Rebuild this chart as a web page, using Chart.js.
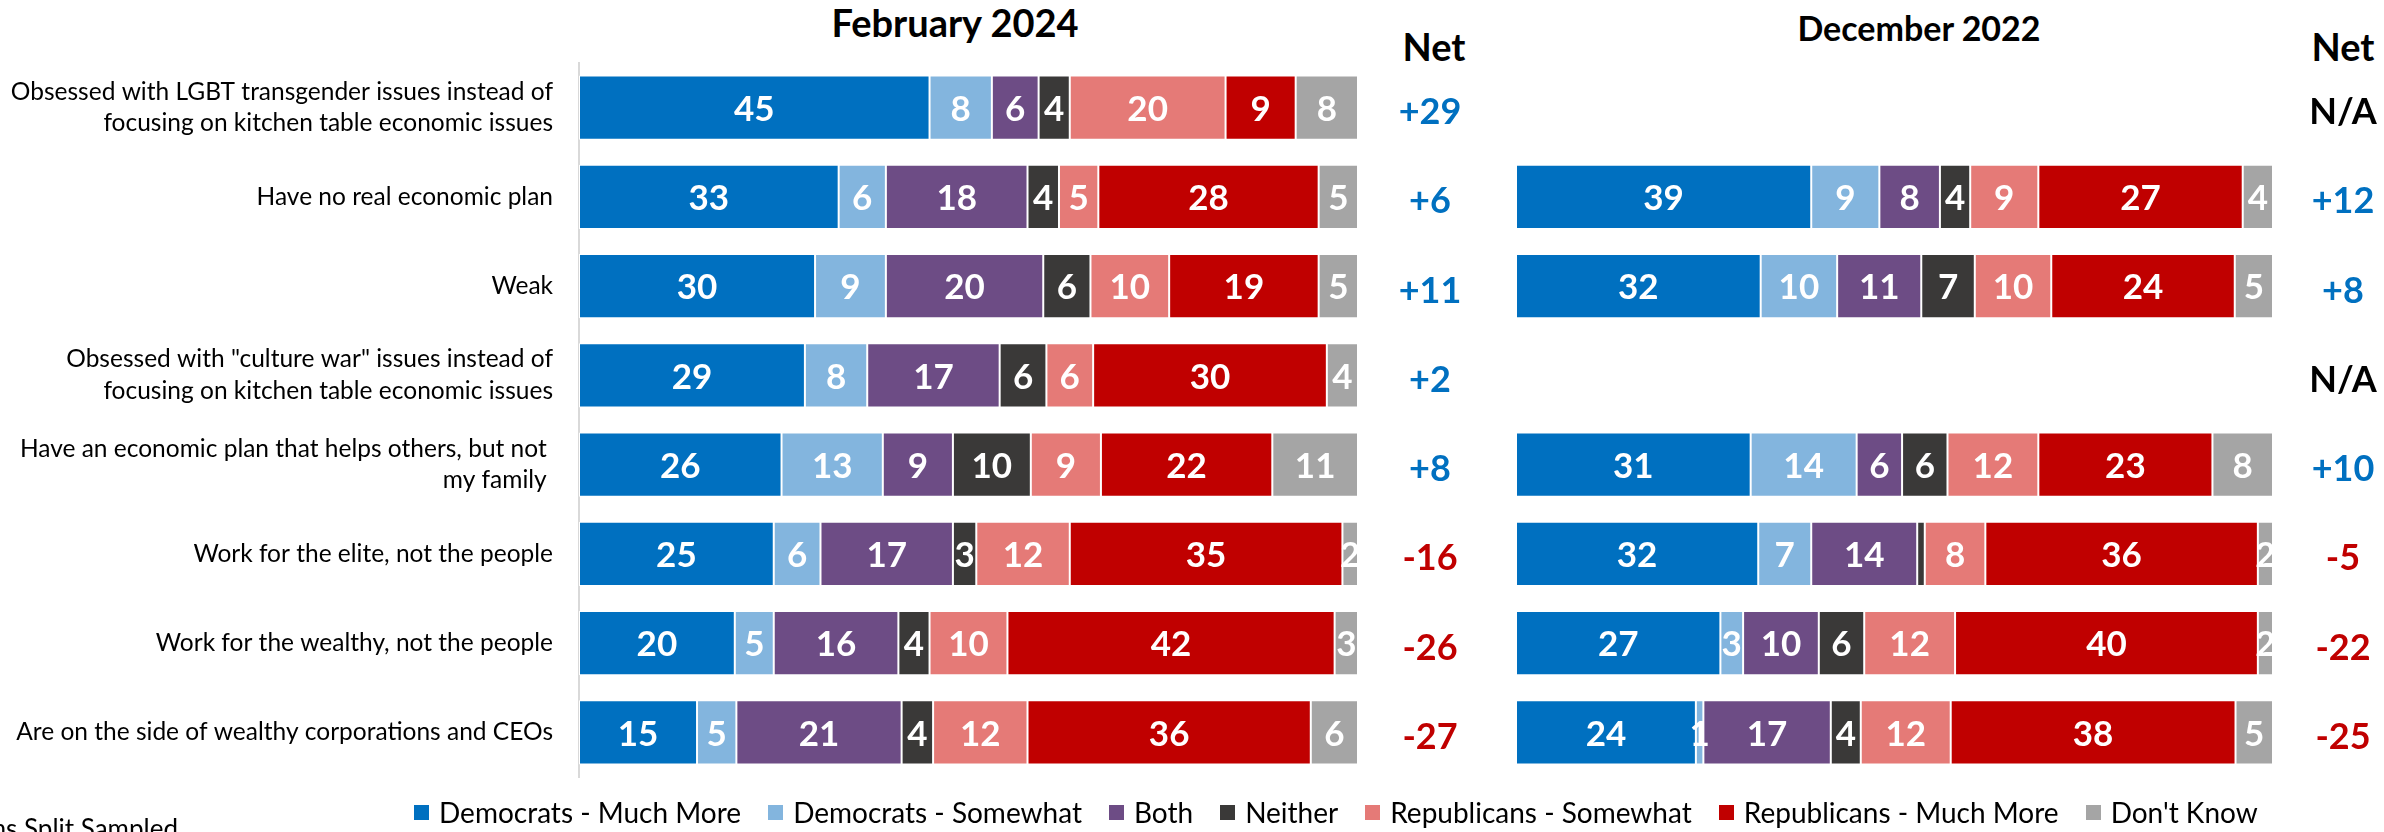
<!DOCTYPE html>
<html lang="en">
<head>
<meta charset="UTF-8">
<title>Democrats vs Republicans - who is it more true of</title>
<script src="https://cdn.jsdelivr.net/npm/chart.js"></script>
<style>
  html, body { margin: 0; padding: 0; background: #fff; }
  body { width: 2384px; height: 832px; position: relative; overflow: hidden; font-family: Lato, sans-serif; color: #000; }
  canvas { position: absolute; top: 0; }
  #feb { left: 0; }
  #dec { left: 1480px; }
  .head { position: absolute; font-weight: bold; font-size: 37px; line-height: 1; white-space: nowrap; transform: translateX(-50%); }
  #legend { position: absolute; left: 414px; top: 798px; display: flex; align-items: center; font-size: 28px; line-height: 1; white-space: nowrap; }
  #legend span.item { display: flex; align-items: center; margin-right: 27px; }
  #legend i { display: inline-block; width: 15px; height: 15px; margin-right: 10px; }
  #note { position: absolute; right: 2206px; top: 815px; font-size: 26px; line-height: 1; white-space: nowrap; }
</style>
</head>
<body>
<div class="head" style="left:955px; top:3px; font-size:38px;">February 2024</div>
<div class="head" style="left:1919px; top:11px; font-size:34px;">December 2022</div>
<div class="head" style="left:1434px; top:27px; font-size:38px;">Net</div>
<div class="head" style="left:2343px; top:27px; font-size:38px;">Net</div>
<canvas id="feb" width="1480" height="832"></canvas>
<canvas id="dec" width="904" height="832"></canvas>
<div id="legend"></div>
<div id="note">*Items Split Sampled</div>

<script>
    const statements = [
        ['Obsessed with LGBT transgender issues instead of', 'focusing on kitchen table economic issues'],
        'Have no real economic plan',
        'Weak',
        ['Obsessed with "culture war" issues instead of', 'focusing on kitchen table economic issues'],
        ['Have an economic plan that helps others, but not ', 'my family '],
        'Work for the elite, not the people',
        'Work for the wealthy, not the people',
        'Are on the side of wealthy corporations and CEOs'
    ];
    const seriesNames = ['Democrats - Much More', 'Democrats - Somewhat', 'Both', 'Neither',
        'Republicans - Somewhat', 'Republicans - Much More', "Don't Know"];
    const seriesColors = ['#0070C0', '#83B5DE', '#6D4C85', '#3A3938', '#E57A77', '#C00000', '#A5A5A5'];

    // February 2024
    const febDemMuch = [45, 33, 30, 29, 26, 25, 20, 15];
    const febDemSome = [8, 6, 9, 8, 13, 6, 5, 5];
    const febBoth = [6, 18, 20, 17, 9, 17, 16, 21];
    const febNeither = [4, 4, 6, 6, 10, 3, 4, 4];
    const febRepSome = [20, 5, 10, 6, 9, 12, 10, 12];
    const febRepMuch = [9, 28, 19, 30, 22, 35, 42, 36];
    const febDontKnow = [8, 5, 5, 4, 11, 2, 3, 6];
    const febNet = [29, 6, 11, 2, 8, -16, -26, -27];

    // December 2022 (null = not asked)
    const decDemMuch = [null, 39, 32, null, 31, 32, 27, 24];
    const decDemSome = [null, 9, 10, null, 14, 7, 3, 1];
    const decBoth = [null, 8, 11, null, 6, 14, 10, 17];
    const decNeither = [null, 4, 7, null, 6, 1, 6, 4];
    const decRepSome = [null, 9, 10, null, 12, 8, 12, 12];
    const decRepMuch = [null, 27, 24, null, 23, 36, 40, 38];
    const decDontKnow = [null, 4, 5, null, 8, 2, 2, 5];
    const decNet = [null, 12, 8, null, 10, -5, -22, -25];
    // [series, row] values shown without a label
    const decUnlabelled = [[3, 5]];

    const segmentLabels = {
        id: 'segmentLabels',
        afterDatasetsDraw(chart, args, opts) {
            const ctx = chart.ctx;
            const a = chart.chartArea;
            ctx.save();
            ctx.beginPath();
            ctx.rect(a.left, a.top, a.right - a.left, a.bottom - a.top);
            ctx.clip();
            ctx.font = 'bold 35px Lato';
            ctx.fillStyle = '#fff';
            ctx.textAlign = 'center';
            ctx.textBaseline = 'middle';
            chart.data.datasets.forEach((ds, di) => {
                chart.getDatasetMeta(di).data.forEach((bar, i) => {
                    const v = ds.raw[i];
                    if (v == null) return;
                    if ((opts.hidden || []).some(h => h[0] === di && h[1] === i)) return;
                    ctx.fillText(String(v), (bar.x + bar.base) / 2, bar.y + 2);
                });
            });
            ctx.restore();
        }
    };

    const netColumn = {
        id: 'netColumn',
        afterDraw(chart, args, opts) {
            const ctx = chart.ctx;
            const y = chart.scales.y;
            ctx.save();
            ctx.font = 'bold 36px Lato';
            ctx.textAlign = 'center';
            ctx.textBaseline = 'middle';
            opts.values.forEach((v, i) => {
                let txt = 'N/A', col = '#000';
                if (v != null) {
                    txt = v > 0 ? '+' + v : String(v);
                    col = v > 0 ? '#0070C0' : '#C00000';
                }
                ctx.fillStyle = col;
                ctx.fillText(txt, chart.chartArea.right + opts.offset, y.getPixelForValue(i) + 5);
            });
            ctx.restore();
        }
    };

    function makeChart(id, rows, net, cfg) {
        const totals = statements.map((s, i) => rows.reduce((sum, r) => sum + (r[i] || 0), 0));
        return new Chart(document.getElementById(id), {
            type: 'bar',
            data: {
                labels: statements,
                datasets: rows.map((r, k) => ({
                    label: seriesNames[k],
                    raw: r,
                    // 100% stacked, like the original
                    data: r.map((v, i) => v == null ? null : v / totals[i] * 100),
                    backgroundColor: seriesColors[k],
                    borderColor: '#fff',
                    borderWidth: 1,
                    borderSkipped: false,
                    barPercentage: 0.72,
                    categoryPercentage: 1
                }))
            },
            options: {
                indexAxis: 'y',
                responsive: false,
                animation: false,
                layout: {padding: cfg.padding},
                scales: {
                    x: {stacked: true, min: 0, max: 100, display: false},
                    y: {
                        stacked: true,
                        display: cfg.showLabels,
                        grid: {display: false},
                        border: {display: true, color: '#D9D9D9', width: 2},
                        ticks: {
                            padding: 18,
                            color: '#000',
                            font: {family: 'Lato', size: 24.5, lineHeight: 1.3}
                        },
                        afterFit(scale) {
                            if (cfg.axisWidth) scale.width = cfg.axisWidth;
                        }
                    }
                },
                plugins: {
                    legend: {display: false},
                    tooltip: {enabled: false},
                    segmentLabels: {hidden: cfg.hidden},
                    netColumn: {values: net, offset: cfg.netOffset}
                }
            },
            plugins: [segmentLabels, netColumn]
        });
    }

    makeChart('feb',
        [febDemMuch, febDemSome, febBoth, febNeither, febRepSome, febRepMuch, febDontKnow],
        febNet,
        {padding: {top: 63, bottom: 55, left: 0, right: 122}, showLabels: true, axisWidth: 579, netOffset: 72});

    makeChart('dec',
        [decDemMuch, decDemSome, decBoth, decNeither, decRepSome, decRepMuch, decDontKnow],
        decNet,
        {padding: {top: 63, bottom: 55, left: 36, right: 111}, showLabels: false, netOffset: 70, hidden: decUnlabelled});

    const legend = document.getElementById('legend');
    seriesNames.forEach((name, k) => {
        const item = document.createElement('span');
        item.className = 'item';
        const sw = document.createElement('i');
        sw.style.background = seriesColors[k];
        item.appendChild(sw);
        item.appendChild(document.createTextNode(name));
        legend.appendChild(item);
    });
</script>
</body>
</html>
